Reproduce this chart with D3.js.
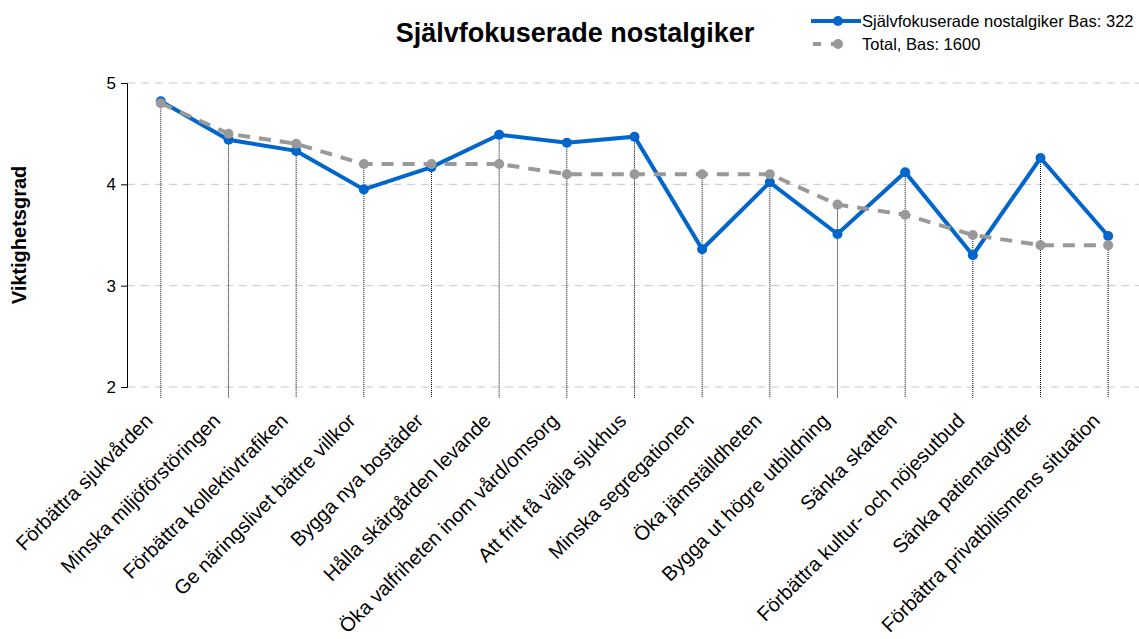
<!DOCTYPE html>
<html>
<head>
<meta charset="utf-8">
<script src="https://cdn.jsdelivr.net/npm/d3@7"></script>
<style>
  body { margin: 0; background: #fff; }
  text { font-family: "Liberation Sans", Arial, sans-serif; }
</style>
</head>
<body>
<div id="chart"></div>
<script>
// Kategorier
var categories = [
  "Förbättra sjukvården",
  "Minska miljöförstöringen",
  "Förbättra kollektivtrafiken",
  "Ge näringslivet bättre villkor",
  "Bygga nya bostäder",
  "Hålla skärgården levande",
  "Öka valfriheten inom vård/omsorg",
  "Att fritt få välja sjukhus",
  "Minska segregationen",
  "Öka jämställdheten",
  "Bygga ut högre utbildning",
  "Sänka skatten",
  "Förbättra kultur- och nöjesutbud",
  "Sänka patientavgifter",
  "Förbättra privatbilismens situation"
];

// Serier
var seriesNames = ["Självfokuserade nostalgiker Bas: 322", "Total, Bas: 1600"];
var valuesGroup = [4.82, 4.44, 4.33, 3.95, 4.17, 4.49, 4.41, 4.47, 3.36, 4.02, 3.51, 4.12, 3.30, 4.26, 3.49];
var valuesTotal = [4.8, 4.5, 4.4, 4.2, 4.2, 4.2, 4.1, 4.1, 4.1, 4.1, 3.8, 3.7, 3.5, 3.4, 3.4];
var yTicks = [2, 3, 4, 5];

var w = 1139, h = 639;
var margin = {top: 83, right: -3, bottom: 252, left: 127};
var width = w - margin.left - margin.right;
var height = h - margin.top - margin.bottom;

var svg = d3.select("#chart").append("svg")
  .attr("width", w).attr("height", h);

var g = svg.append("g")
  .attr("transform", "translate(" + margin.left + "," + margin.top + ")");

// Skalor
var x = d3.scaleBand().domain(categories).range([0, width]);
var y = d3.scaleLinear().domain([2, 5]).range([height, 0]);
var cx = function(d, i) { return x(categories[i]) + x.bandwidth() / 2; };

// Rutnät
g.selectAll(".grid").data(yTicks).enter().append("line")
  .attr("x1", 0).attr("x2", width)
  .attr("y1", function(d) { return y(d); })
  .attr("y2", function(d) { return y(d); })
  .attr("stroke", "#c8c8c8").attr("stroke-width", 1)
  .attr("stroke-dasharray", "8,6");

// Y-axel
var yAxis = d3.axisLeft(y).tickValues(yTicks).tickSize(6).tickFormat(d3.format("d"));
var ya = g.append("g").call(yAxis);
ya.select(".domain").attr("stroke", "#000");
ya.selectAll("text").attr("font-size", "17px").attr("fill", "#000").attr("dx", "-2");

// X-etiketter
g.selectAll(".xlab").data(categories).enter().append("text")
  .attr("transform", function(d, i) {
    return "translate(" + (cx(d, i) - 7) + "," + (height + 35) + ") rotate(-45)";
  })
  .attr("text-anchor", "end")
  .attr("font-size", "20px")
  .attr("fill", "#000")
  .text(function(d) { return d; });

// Lodlinjer
g.selectAll(".drop").data(categories).enter().append("line")
  .attr("x1", cx).attr("x2", cx)
  .attr("y1", function(d, i) { return y(Math.max(valuesGroup[i], valuesTotal[i])); })
  .attr("y2", height + 11)
  .attr("stroke", "#000").attr("stroke-width", 1)
  .attr("stroke-dasharray", "1,1");

var line = d3.line().x(cx).y(function(d) { return y(d); });

// Blå serie
g.append("path").datum(valuesGroup)
  .attr("d", line).attr("fill", "none")
  .attr("stroke", "#0066cc").attr("stroke-width", 4);
g.selectAll(".pG").data(valuesGroup).enter().append("circle")
  .attr("cx", cx).attr("cy", function(d) { return y(d); })
  .attr("r", 5).attr("fill", "#0066cc");

// Grå serie
g.append("path").datum(valuesTotal)
  .attr("d", line).attr("fill", "none")
  .attr("stroke", "#999999").attr("stroke-width", 4)
  .attr("stroke-dasharray", "12,9");
g.selectAll(".pT").data(valuesTotal).enter().append("circle")
  .attr("cx", cx).attr("cy", function(d) { return y(d); })
  .attr("r", 5).attr("fill", "#999999");

// Titel
svg.append("text")
  .attr("x", 575).attr("y", 42)
  .attr("text-anchor", "middle")
  .attr("font-size", "27px").attr("font-weight", "bold")
  .text("Självfokuserade nostalgiker");

// Y-titel
svg.append("text")
  .attr("transform", "translate(26,235) rotate(-90)")
  .attr("text-anchor", "middle")
  .attr("font-size", "20px").attr("font-weight", "bold")
  .text("Viktighetsgrad");

// Legend
var leg = svg.append("g");
leg.append("line").attr("x1", 811).attr("x2", 861).attr("y1", 21).attr("y2", 21)
  .attr("stroke", "#0066cc").attr("stroke-width", 4);
leg.append("circle").attr("cx", 838).attr("cy", 21).attr("r", 5).attr("fill", "#0066cc");
leg.append("text").attr("x", 862).attr("y", 27).attr("font-size", "16.5px").text(seriesNames[0]);

leg.append("line").attr("x1", 813).attr("x2", 845).attr("y1", 44).attr("y2", 44)
  .attr("stroke", "#999999").attr("stroke-width", 4).attr("stroke-dasharray", "8,10");
leg.append("circle").attr("cx", 838).attr("cy", 44).attr("r", 5).attr("fill", "#999999");
leg.append("text").attr("x", 862).attr("y", 50).attr("font-size", "16.5px").text(seriesNames[1]);
</script>
</body>
</html>
